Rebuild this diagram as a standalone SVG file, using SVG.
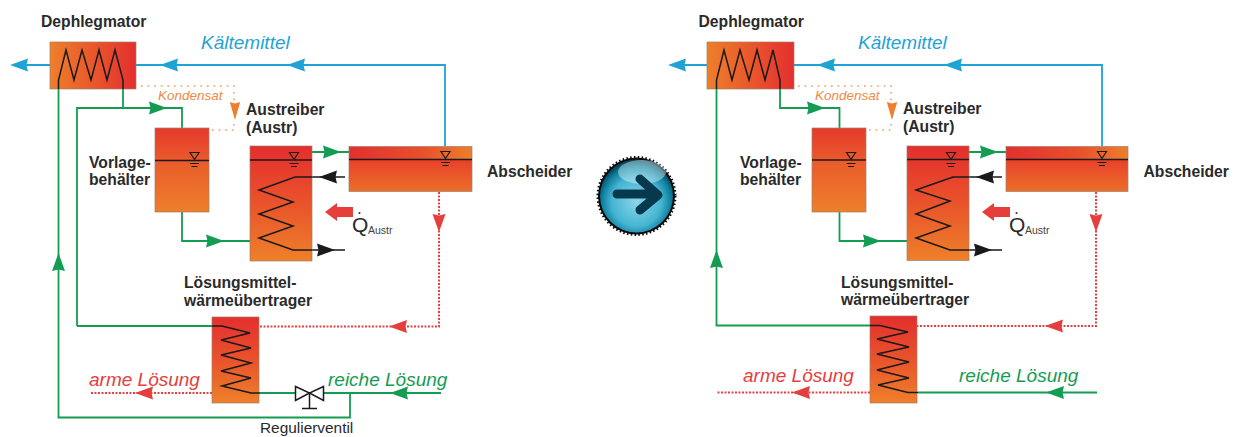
<svg xmlns="http://www.w3.org/2000/svg" width="1236" height="437" viewBox="0 0 1236 437">
<style>
text{font-family:"Liberation Sans",Arial,sans-serif}
.lb{font-size:15.700px;font-weight:bold;fill:#2a2a2a}
.it{font-size:19px;font-style:italic}
.bl{fill:#1fa3d4}.rd{fill:#e53e3c}.gn{fill:#149c52}.or{fill:#ee7f2d}.bk{fill:#1a1a1a}
.box{stroke:#9a8070;stroke-width:.7}
.coil{fill:none;stroke:#1a1a1a;stroke-width:1.500;stroke-linejoin:miter}
.lv{fill:none;stroke:#1a1a1a;stroke-width:1.200}
.lvl{stroke:#1a1a1a;stroke-width:1.600}
.lg{fill:none;stroke:#149c52;stroke-width:1.800}
.lb2{fill:none;stroke:#1fa3d4;stroke-width:1.800}
.lr{fill:none;stroke:#e5403f;stroke-width:2;stroke-dasharray:2 1.500}
.lo{fill:none;stroke:#ee9a5f;stroke-width:1.500;stroke-dasharray:1.600 5}
.lk{fill:none;stroke:#1a1a1a;stroke-width:1.600}
</style>
<defs>
<linearGradient id="gh"><stop offset="0" stop-color="#ee7f2a"/><stop offset="1" stop-color="#e42f2e"/></linearGradient>
<linearGradient id="gv1" x1="0" y1="0" x2="0" y2="1"><stop offset="0" stop-color="#e63a2d"/><stop offset=".45" stop-color="#ea5f2b"/><stop offset="1" stop-color="#ee7f2a"/></linearGradient>
<linearGradient id="gv2" x1="0" y1="0" x2="0" y2="1"><stop offset="0" stop-color="#e42e2e"/><stop offset=".5" stop-color="#e9532b"/><stop offset="1" stop-color="#ee802a"/></linearGradient>
<linearGradient id="ga1"><stop offset="0" stop-color="#e2302f"/><stop offset=".6" stop-color="#e8502b"/><stop offset="1" stop-color="#ed7f2c"/></linearGradient>
<linearGradient id="ga2" x1="0" y1="0" x2="0" y2="1"><stop offset="0" stop-color="#e8402a"/><stop offset="1" stop-color="#ec6f2a"/></linearGradient>
<radialGradient id="sph" cx=".5" cy=".58" r=".55"><stop offset="0" stop-color="#8ad6e6"/><stop offset=".62" stop-color="#45b4d2"/><stop offset=".86" stop-color="#0f7f9f"/><stop offset="1" stop-color="#06485e"/></radialGradient>
<g id="lv"><path class="lv" d="M-4.500-7.500H4.500L0-.5Z"/><path class="lv" d="M-4.500 3.500H4.500M-3 6.500H3"/></g>
<path id="ah" d="M0 0L18-6.500L16.500 0L18 6.500Z"/>
</defs>

<g id="connectors">
<!-- left -->
<path class="lb2" d="M22 65H445V146"/>
<use href="#ah" class="bl" transform="translate(10 65)"/><use href="#ah" class="bl" transform="translate(160 65)"/><use href="#ah" class="bl" transform="translate(287 65)"/>
<path class="lg" d="M58.500 80V417.500H350V393"/>
<path class="lg" d="M123 80V108M77 326V108H182V128M77 326H222"/>
<path class="lg" d="M182 212V241H250"/>
<path class="lg" d="M312 152H349"/>
<path class="lg" d="M260 393H441"/>
<use href="#ah" class="gn" transform="translate(58.500 253) rotate(90)"/><use href="#ah" class="gn" transform="translate(167 108) rotate(180)"/><use href="#ah" class="gn" transform="translate(224 241) rotate(180)"/><use href="#ah" class="gn" transform="translate(341 152) rotate(180)"/><use href="#ah" class="gn" transform="translate(390 393)"/>
<path class="lr" d="M439 192V326.500H259"/><path class="lr" d="M212 393H90"/>
<use href="#ah" class="rd" transform="translate(439 232) rotate(-90)"/><use href="#ah" class="rd" transform="translate(389 326.500)"/><use href="#ah" class="rd" transform="translate(135 393)"/>
<path class="lo" d="M141 86H234V101M234 124V130H210"/>
<use href="#ah" class="or" transform="translate(235 120) rotate(-90) scale(1 .8)"/>
<path class="lk" d="M312 177H345M312 250H345"/>
<use href="#ah" class="bk" transform="translate(319 177)"/><use href="#ah" class="bk" transform="translate(335 250) rotate(180)"/>
<!-- right -->
<path class="lb2" d="M679 65H1102V146"/>
<use href="#ah" class="bl" transform="translate(668 65)"/><use href="#ah" class="bl" transform="translate(817 65)"/><use href="#ah" class="bl" transform="translate(944 65)"/>
<path class="lg" d="M716.500 80V325.500H880"/><path class="lg" d="M780 80V108H839.500V128"/>
<path class="lg" d="M839.500 212V241H907"/><path class="lg" d="M969 152H1006"/><path class="lg" d="M918 392.500H1097"/>
<use href="#ah" class="gn" transform="translate(716.500 250) rotate(90)"/><use href="#ah" class="gn" transform="translate(825 108) rotate(180)"/><use href="#ah" class="gn" transform="translate(881 241) rotate(180)"/><use href="#ah" class="gn" transform="translate(998 152) rotate(180)"/><use href="#ah" class="gn" transform="translate(1046 392.500)"/>
<path class="lr" d="M1096 192V326H917"/><path class="lr" d="M870 392.500H716"/>
<use href="#ah" class="rd" transform="translate(1096 232) rotate(-90)"/><use href="#ah" class="rd" transform="translate(1045 326)"/><use href="#ah" class="rd" transform="translate(792 392.500)"/>
<path class="lo" d="M798 86H891V101M891 124V130H867"/>
<use href="#ah" class="or" transform="translate(892 120) rotate(-90) scale(1 .8)"/>
<path class="lk" d="M969 177H1002M969 250H1002"/>
<use href="#ah" class="bk" transform="translate(976 177)"/><use href="#ah" class="bk" transform="translate(992 250) rotate(180)"/>
</g>

<g id="dephlegmator-l"><rect class="box" x="50" y="42" width="86" height="47" fill="url(#gh)"/><path class="coil" d="M58.500 89V80L66 50L74 80L82 50L91 80L99 50L107 80L115 50L123 80V89"/><text class="lb" x="41" y="27">Dephlegmator</text></g>
<g id="vorlage-l"><rect class="box" x="155" y="128" width="54" height="84" fill="url(#gv1)"/><path class="lvl" d="M155 160.500H209"/><use href="#lv" x="194.500" y="160"/><text class="lb" x="89" y="168">Vorlage-</text><text class="lb" x="89" y="185">behälter</text></g>
<g id="austreiber-l"><rect class="box" x="250" y="146" width="62" height="115" fill="url(#gv2)"/><path class="lvl" d="M250 160H312"/><use href="#lv" x="294" y="160"/><path class="coil" d="M312 177H295L259 190L293 202L259 214L293 226L259 238L293 250H312"/><text class="lb" x="246" y="115">Austreiber</text><text class="lb" x="246" y="133">(Austr)</text></g>
<g id="abscheider-l"><rect x="349" y="146.500" width="123" height="13" fill="url(#ga1)"/><rect x="349" y="159.500" width="123" height="32" fill="url(#ga2)"/><rect class="box" x="349" y="146.500" width="123" height="45" fill="none"/><path class="lvl" d="M349 159.500H472"/><use href="#lv" x="445.500" y="159"/><text class="lb" x="487" y="177">Abscheider</text></g>
<g id="hx-l"><rect class="box" x="212" y="317" width="47" height="86" fill="url(#gv2)"/><path class="coil" d="M212 326H222L250 333L221 340L251 348L221 355L251 363L221 371L251 378L222 386L251 393H260"/><text class="lb" x="184" y="288">Lösungsmittel-</text><text class="lb" x="184" y="306">wärmeübertrager</text></g>
<g id="ventil-l"><path d="M295.500 386.500L309.500 393L295.500 400.500ZM323.500 386.500L309.500 393L323.500 400.500Z" fill="#fff" stroke="#1a1a1a" stroke-width="1.500"/><path d="M309.500 393V408M302 408.500H317" stroke="#1a1a1a" stroke-width="1.500" fill="none"/><text x="260" y="433" font-size="15.400" fill="#2a2a2a">Regulierventil</text></g>
<g id="labels-l">
<text class="it bl" x="201" y="49">Kältemittel</text>
<text x="158" y="100" style="fill:#ee8a45;font-size:13.500px;font-style:italic">Kondensat</text>
<text class="it rd" x="89" y="386">arme Lösung</text>
<text class="it gn" x="328" y="386">reiche Lösung</text>
</g>
<g id="waerme-l"><path class="rd" d="M325 212L337 203V207H353V217H337V221Z"/><text x="352" y="232" font-size="21" fill="#2a2a2a">Q</text><circle cx="359.500" cy="213" r="1" fill="#2a2a2a"/><text x="368" y="234" font-size="10.500" fill="#444">Austr</text></g>

<g id="button"><circle cx="636.500" cy="196" r="38.500" fill="#0a0a0a" stroke="#0a0a0a" stroke-width="3" stroke-dasharray="1.500 2.300"/><circle cx="636.500" cy="196" r="36.500" fill="url(#sph)"/><ellipse cx="642" cy="172" rx="24" ry="12" fill="#d5f3f8" opacity=".45"/><path d="M617 194H654M640 179L658 195L640 210" fill="none" stroke="#06384e" stroke-width="9" stroke-linecap="round" stroke-linejoin="round"/></g>

<g id="dephlegmator-r"><rect class="box" x="707" y="42" width="87" height="47" fill="url(#gh)"/><path class="coil" d="M716.500 89V80L724 50L732 80L740 50L749 80L757 50L765 80L773 50L780 80V89"/><text class="lb" x="698.500" y="27">Dephlegmator</text></g>
<g id="vorlage-r"><rect class="box" x="812" y="128" width="54" height="84" fill="url(#gv1)"/><path class="lvl" d="M812 160H866"/><use href="#lv" x="851" y="160"/><text class="lb" x="740" y="168">Vorlage-</text><text class="lb" x="740" y="185">behälter</text></g>
<g id="austreiber-r"><rect class="box" x="907" y="146" width="62" height="114.500" fill="url(#gv2)"/><path class="lvl" d="M907 159.500H969"/><use href="#lv" x="951" y="160"/><path class="coil" d="M969 177H953L916 190L950 201L916 214L950 226L916 238L950 250H969"/><text class="lb" x="903" y="114">Austreiber</text><text class="lb" x="903" y="132">(Austr)</text></g>
<g id="abscheider-r"><rect x="1006" y="146.500" width="122" height="13" fill="url(#ga1)"/><rect x="1006" y="159.500" width="122" height="32" fill="url(#ga2)"/><rect class="box" x="1006" y="146.500" width="122" height="45" fill="none"/><path class="lvl" d="M1006 159.500H1128"/><use href="#lv" x="1102" y="159"/><text class="lb" x="1143.500" y="177">Abscheider</text></g>
<g id="hx-r"><rect class="box" x="870" y="316" width="47" height="87" fill="url(#gv2)"/><path class="coil" d="M870 325.500H880L908 332L877 339L909 347L877 354L909 362L877 370L909 378L878 385L908 392.500H918"/><text class="lb" x="841" y="288">Lösungsmittel-</text><text class="lb" x="841" y="305">wärmeübertrager</text></g>
<g id="labels-r">
<text class="it bl" x="858" y="49">Kältemittel</text>
<text x="815" y="100" style="fill:#ee8a45;font-size:13.500px;font-style:italic">Kondensat</text>
<text class="it rd" x="743" y="382">arme Lösung</text>
<text class="it gn" x="959" y="382">reiche Lösung</text>
</g>
<g id="waerme-r"><path class="rd" d="M982 212L994 203V207H1010V217H994V221Z"/><text x="1009" y="232" font-size="21" fill="#2a2a2a">Q</text><circle cx="1016.500" cy="213" r="1" fill="#2a2a2a"/><text x="1025" y="234" font-size="10.500" fill="#444">Austr</text></g>
</svg>
